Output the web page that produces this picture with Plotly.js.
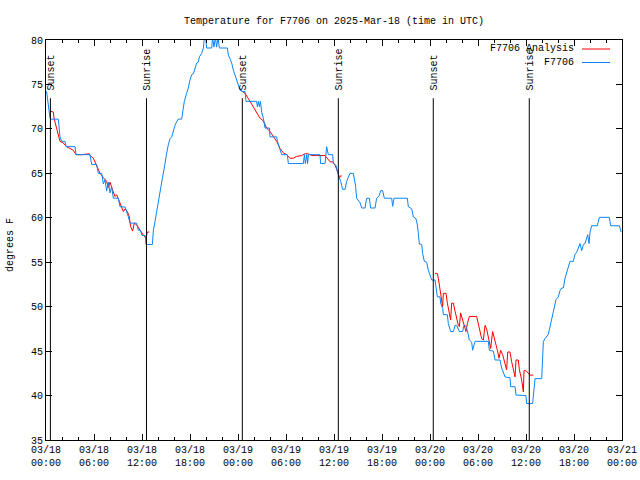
<!DOCTYPE html>
<html>
<head>
<meta charset="utf-8">
<script src="https://cdn.plot.ly/plotly-3.0.1.min.js"></script>
<style>html,body{margin:0;padding:0;background:#fff;}#chart{width:640px;height:480px;}</style>
</head>
<body>
<div id="chart"></div>
<script>
// ---- data (hours since 2025-03-18 00:00 UTC) ----
const blueHours = [0.0,0.08,0.5,0.63,1.54,1.75,1.96,2.38,2.5,3.63,3.75,5.5,5.71,6.33,6.54,6.96,7.17,7.38,7.58,7.79,8.0,8.2,8.42,9.04,9.25,9.9,10.3,10.5,11.33,11.54,11.8,12.0,12.4,12.5,13.3,13.42,13.63,13.83,13.96,14.17,14.33,14.54,14.75,14.88,15.08,15.29,15.5,15.71,15.92,16.13,16.33,16.54,16.96,17.08,17.29,17.58,17.79,18.0,18.21,18.42,18.63,18.83,19.04,19.17,19.46,19.67,19.79,19.96,20.08,20.71,20.83,21.0,21.17,21.33,21.5,21.67,22.67,22.79,23.0,23.21,23.42,23.63,23.83,24.04,24.25,24.46,24.88,25.0,26.33,26.42,26.55,26.67,26.8,26.96,27.17,27.38,27.92,28.0,28.83,28.92,29.17,29.33,29.46,30.17,30.29,32.17,32.3,32.42,32.6,32.7,32.8,34.25,34.33,34.88,34.96,35.08,35.29,35.83,35.92,36.25,36.42,36.67,36.83,37.08,37.38,37.58,37.79,38.0,38.42,38.5,38.71,38.83,39.04,39.25,39.46,39.88,40.08,40.42,40.58,41.13,41.33,41.67,41.83,42.08,42.29,43.21,43.33,43.5,45.17,45.29,45.71,45.92,46.25,46.42,46.54,46.67,46.96,47.08,47.29,47.58,47.79,48.0,48.21,48.63,48.75,48.92,49.25,49.33,49.58,49.67,50.17,50.29,50.58,50.92,51.13,51.33,51.67,52.08,52.25,52.5,52.67,52.92,53.21,53.33,53.63,55.29,55.42,55.92,56.13,56.75,56.96,57.38,58.0,58.08,58.63,58.75,60.0,60.08,60.83,61.0,61.13,61.96,62.08,62.17,62.38,62.58,62.79,62.92,63.08,63.29,63.42,63.63,63.75,64.04,64.25,64.46,64.67,64.88,65.08,65.29,65.5,65.92,66.13,66.33,66.54,66.75,66.96,67.17,67.38,67.58,67.71,67.88,68.0,68.21,68.92,69.04,69.17,70.42,70.58,71.67,71.83,71.9];
const blueTemps = [74.0,74.2,71.2,71.1,71.1,69.1,68.6,68.6,68.0,68.0,67.1,67.1,66.0,66.0,65.0,65.0,63.8,64.3,63.0,64.0,62.8,63.5,62.2,62.2,61.25,61.2,60.1,59.4,59.4,58.6,58.6,58.0,58.0,57.0,57.0,58.6,59.6,60.7,61.6,62.6,63.5,64.4,65.4,66.3,67.25,68.2,68.9,69.1,69.9,70.4,70.8,71.1,71.1,71.9,73.1,74.0,74.6,75.5,76.1,76.2,76.8,77.4,77.5,78.1,78.5,79.1,80.3,80.3,79.1,79.1,80.3,79.2,80.3,79.2,80.3,79.1,79.1,78.3,77.9,77.4,76.6,76.1,75.5,74.9,74.4,74.2,74.2,73.1,73.1,72.5,73.1,72.5,73.1,71.9,71.2,70.1,70.1,69.1,69.1,68.6,68.0,67.6,67.1,67.1,66.1,66.1,67.1,66.1,67.1,66.1,67.1,67.1,66.1,66.1,67.1,68.0,67.1,67.1,66.1,65.9,65.2,64.6,64.1,63.2,63.2,64.1,64.6,65.0,65.0,64.6,63.5,62.2,62.0,61.7,61.1,61.1,62.2,62.2,61.1,61.1,62.2,62.5,63.05,63.05,62.2,62.2,61.3,62.2,62.2,61.25,61.0,60.1,59.9,59.2,58.25,57.05,57.0,56.0,55.1,55.0,54.1,53.6,53.0,53.0,52.1,51.1,51.1,50.4,49.8,49.1,49.1,48.1,47.2,47.2,47.9,47.9,47.2,47.2,47.9,47.8,47.3,46.25,46.0,45.1,46.1,46.1,45.1,45.0,44.0,44.0,43.1,42.1,42.0,41.0,41.0,40.06,40.0,39.1,39.1,40.4,41.9,41.9,44.9,46.1,46.4,46.6,46.9,47.4,48.1,49.1,49.7,50.4,50.8,51.1,51.8,52.1,52.1,53.2,53.8,54.7,55.1,55.1,55.9,56.1,56.75,57.1,56.3,57.0,57.1,57.8,58.1,57.1,58.4,59.1,59.1,59.6,60.05,60.05,59.1,59.1,58.4,58.4];

const red1Hours = [0.5,0.92,1.0,1.33,1.75,2.17,2.58,3.0,3.42,3.75,4.46,5.42,5.5,5.92,6.33,6.75,7.17,7.58,7.79,8.0,8.33,8.63,8.83,9.25,9.67,9.88,10.17,10.42,10.58,10.83,11.04,11.33,11.75,12.17,12.5,12.67,12.92];
const red1Temps = [72.0,71.9,71.2,69.9,68.6,68.4,68.0,67.8,67.6,67.1,67.1,67.2,67.0,66.7,65.75,65.0,64.5,64.1,63.4,64.0,63.1,62.4,62.6,61.6,60.7,61.0,60.7,60.1,59.0,58.5,59.4,59.2,58.6,58.06,57.7,58.4,58.4];
const red2Hours = [24.25,24.88,25.5,26.13,26.75,27.17,27.58,28.0,28.42,28.83,29.25,29.67,30.08,30.5,30.92,31.33,31.96,32.38,32.79,33.21,33.83,34.88,35.5,35.83,36.13,36.54,36.67,36.75,36.96];
const red2Temps = [74.4,74.0,73.1,72.1,71.2,70.9,70.1,69.7,69.1,68.6,67.8,67.3,67.1,66.7,66.7,66.9,67.0,67.2,67.2,67.0,67.0,67.0,66.3,66.3,65.9,65.0,64.4,64.7,64.7];
const red3Hours = [48.63,48.92,49.04,49.25,49.46,49.58,49.67,50.0,50.17,50.42,50.58,50.71,50.92,51.13,51.33,51.54,51.67,51.83,52.08,52.29,52.5,52.67,52.92,53.83,54.04,54.25,54.46,54.67,54.88,55.08,55.29,55.58,55.83,56.13,56.42,56.63,56.83,57.08,57.38,57.58,57.71,58.0,58.21,58.42,58.63,58.75,59.04,59.17,59.46,59.67,59.75,60.0,60.29,60.5,60.92];
const red3Temps = [53.75,53.75,53.2,51.9,50.6,50.0,51.5,51.5,50.4,49.4,48.5,50.4,50.4,49.5,48.5,47.9,47.75,49.3,48.5,47.8,47.2,48.1,48.9,48.9,48.1,47.2,46.4,46.25,47.9,47.5,46.6,45.3,47.2,46.25,45.1,44.2,45.1,44.6,43.6,42.9,44.9,44.9,43.8,43.1,42.1,44.0,44.0,42.9,41.75,40.4,42.8,42.8,42.5,42.3,42.3];

const sunHours = [0.55,12.56,24.54,36.54,48.41,60.41];
const sunLabels = ["Sunset","Sunrise","Sunset","Sunrise","Sunset","Sunrise"];
const sunLineTop = 73.45;

const seriesNames = ["F7706 Analysis","F7706"];
const yTitle = "degrees F";
const chartTitle = "Temperature for F7706 on 2025-Mar-18 (time in UTC)";

// ---- build ----
const base = Date.UTC(2025, 2, 18, 0, 0, 0);
const H = 3600000;
const toMs = h => base + h * H;

const redX = [], redY = [];
[[red1Hours, red1Temps], [red2Hours, red2Temps], [red3Hours, red3Temps]].forEach(([hs, ts], i) => {
  if (i > 0) { redX.push(null); redY.push(null); }
  hs.forEach((h, j) => { redX.push(toMs(h)); redY.push(ts[j]); });
});

const RED = '#ff0000', BLUE = '#0a84f6';
const FONT = 'Liberation Mono, DejaVu Sans Mono, monospace';

const traces = [
  {x: redX, y: redY, type: 'scatter', mode: 'lines', name: seriesNames[0],
   line: {color: RED, width: 1}, connectgaps: false, showlegend: false},
  {x: blueHours.map(toMs), y: blueTemps, type: 'scatter', mode: 'lines', name: seriesNames[1],
   line: {color: BLUE, width: 1}, showlegend: false}
];

const shapes = sunHours.map(h => ({
  type: 'line', xref: 'x', yref: 'y', x0: toMs(h), x1: toMs(h), y0: 35, y1: sunLineTop,
  line: {color: '#000', width: 1}
}));
const annotations = sunHours.map((h, i) => ({
  xref: 'x', yref: 'y', x: toMs(h), y: sunLineTop, yshift: 6, xshift: 1,
  text: sunLabels[i], textangle: -90, showarrow: false,
  xanchor: 'center', yanchor: 'bottom', font: {family: FONT, size: 10, color: '#000'}
}));

// custom gnuplot-style key (text left, sample right)
const keyRows = [{y: 0.9775, color: RED}, {y: 0.94375, color: BLUE}];
keyRows.forEach((r, i) => {
  annotations.push({xref: 'paper', yref: 'paper', x: 0.9205, y: r.y, text: seriesNames[i],
    showarrow: false, xanchor: 'right', yanchor: 'middle', font: {family: FONT, size: 10, color: '#000'}});
  shapes.push({type: 'line', xref: 'paper', yref: 'paper', x0: 0.9306, x1: 0.9792, y0: r.y, y1: r.y,
    line: {color: r.color, width: 1}});
});
annotations.push({xref: 'paper', yref: 'paper', x: -0.0607, y: 0.4875, text: yTitle, textangle: -90,
  showarrow: false, xanchor: 'center', yanchor: 'middle', font: {family: FONT, size: 10, color: '#000'}});

const layout = {
  width: 640, height: 480,
  margin: {l: 46, r: 18, t: 40, b: 40, pad: 0},
  paper_bgcolor: '#fff', plot_bgcolor: '#fff',
  font: {family: FONT, size: 10, color: '#000'},
  showlegend: false,
  title: {text: chartTitle, font: {family: FONT, size: 10, color: '#000'},
          x: 0.5, xref: 'paper', xanchor: 'center', y: 1 - 20/480, yref: 'container', yanchor: 'middle'},
  xaxis: {type: 'date', range: [base, toMs(72)], tickmode: 'linear', tick0: base, dtick: 6 * H,
          tickformat: '%m/%d<br>%H:%M', ticks: 'inside', ticklen: 6, tickwidth: 1, tickcolor: '#000',
          showline: true, linecolor: '#000', linewidth: 1, mirror: 'ticks', showgrid: false, zeroline: false,
          minor: {tick0: base, dtick: 2 * H, ticks: 'inside', ticklen: 3, tickwidth: 1, tickcolor: '#000', showgrid: false},
          tickfont: {family: FONT, size: 10, color: '#000'}},
  yaxis: {range: [35, 80], tickmode: 'linear', tick0: 35, dtick: 5, ticks: 'inside', ticklen: 6, tickwidth: 1,
          tickcolor: '#000', showline: true, linecolor: '#000', linewidth: 1, mirror: 'ticks',
          showgrid: false, zeroline: false, tickfont: {family: FONT, size: 10, color: '#000'}},
  shapes: shapes,
  annotations: annotations
};

Plotly.newPlot('chart', traces, layout, {staticPlot: true, displayModeBar: false});
</script>
</body>
</html>
